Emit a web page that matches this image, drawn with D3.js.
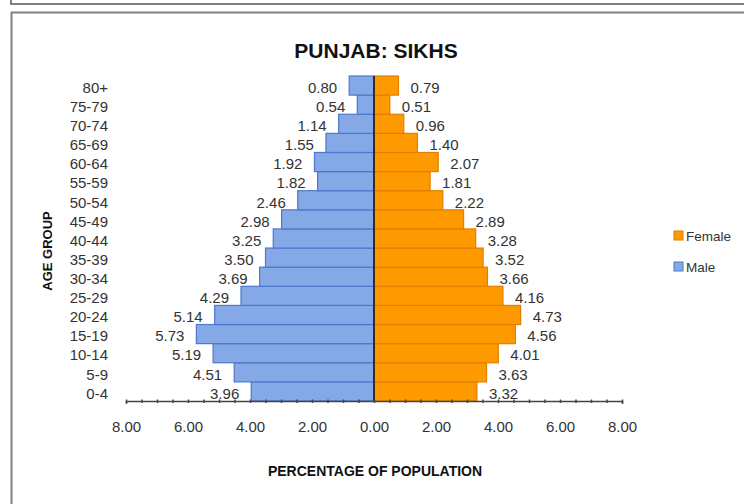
<!DOCTYPE html>
<html><head><meta charset="utf-8">
<script src="https://cdn.jsdelivr.net/npm/d3@7"></script>
<style>
html,body{margin:0;padding:0;background:#fff;}
svg{display:block;font-family:"Liberation Sans",Arial,sans-serif;}
</style></head>
<body><svg id="c" width="744" height="504"></svg>
<script>
const ageGroups = ["0-4","5-9","10-14","15-19","20-24","25-29","30-34","35-39","40-44","45-49","50-54","55-59","60-64","65-69","70-74","75-79","80+"];
const maleValues = [3.96,4.51,5.19,5.73,5.14,4.29,3.69,3.50,3.25,2.98,2.46,1.82,1.92,1.55,1.14,0.54,0.80];
const femaleValues = [3.32,3.63,4.01,4.56,4.73,4.16,3.66,3.52,3.28,2.89,2.22,1.81,2.07,1.40,0.96,0.51,0.79];
const xTickValues = [-8,-6,-4,-2,0,2,4,6,8];
const seriesNames = ["Female","Male"];
const titleText = "PUNJAB: SIKHS";
const xTitle = "PERCENTAGE OF POPULATION";
const yTitle = "AGE GROUP";

const svg = d3.select("#c");
const blueFill = "#84a9e6", blueStroke = "#4d78cc";
const orangeFill = "#ff9900", orangeStroke = "#e07f00";
const border = "#808080";

// outer frames
svg.append("path").attr("d","M11,0 V4 H744").attr("fill","none").attr("stroke",border).attr("stroke-width",2);
svg.append("path").attr("d","M11.5,504 V12.5 H744").attr("fill","none").attr("stroke",border).attr("stroke-width",2);

const x = d3.scaleLinear().domain([-8,8]).range([126,622]);
const y = d3.scaleBand().domain(ageGroups.slice().reverse()).range([76,401]).padding(0);

const data = ageGroups.map((g,i)=>({g, m:maleValues[i], f:femaleValues[i]}));

// male bars
svg.append("g").selectAll("rect").data(data).join("rect")
  .attr("x", d=>x(-d.m)).attr("y", d=>y(d.g))
  .attr("width", d=>x(0)-x(-d.m)).attr("height", y.bandwidth())
  .attr("fill", blueFill).attr("stroke", blueStroke).attr("stroke-width",1.2);
// female bars
svg.append("g").selectAll("rect").data(data).join("rect")
  .attr("x", x(0)).attr("y", d=>y(d.g))
  .attr("width", d=>x(d.f)-x(0)).attr("height", y.bandwidth())
  .attr("fill", orangeFill).attr("stroke", orangeStroke).attr("stroke-width",1.2);

// center axis line
svg.append("line").attr("x1",x(0)).attr("x2",x(0)).attr("y1",76).attr("y2",401)
  .attr("stroke","#3b2a1c").attr("stroke-width",2);

// x axis
const xAxis = d3.axisBottom(x).tickValues(d3.range(-8,8.01,0.5)).tickSize(3).tickFormat("");
const gx = svg.append("g").attr("transform","translate(0,401)").call(xAxis);
gx.select(".domain").attr("stroke","#444").attr("stroke-width",1.5);
gx.selectAll(".tick line").attr("stroke","#444").attr("stroke-width",1.5).attr("y1",-1.5).attr("y2",2);
const gxl = svg.append("g").attr("transform","translate(0,401)")
  .call(d3.axisBottom(x).tickValues(xTickValues).tickSize(0).tickPadding(0).tickFormat(d=>Math.abs(d).toFixed(2)));
gxl.select(".domain").remove();
gxl.selectAll("text").attr("y",31).attr("dy",null).attr("font-size",15).attr("fill","#333").attr("font-family",null);

// y labels
const gy = svg.append("g").attr("transform","translate(108,0)")
  .call(d3.axisLeft(y).tickSize(0).tickPadding(0));
gy.select(".domain").remove();
gy.selectAll("text").attr("dy","0.35em").attr("y",2).attr("font-size",15).attr("fill","#333").attr("font-family",null);

// value labels
svg.append("g").selectAll("text").data(data).join("text")
  .attr("x", d=>x(-d.m)-12).attr("y", d=>y(d.g)+y.bandwidth()/2+2).attr("dy","0.35em")
  .attr("text-anchor","end").attr("font-size",15).attr("fill","#333")
  .text(d=>d.m.toFixed(2));
svg.append("g").selectAll("text").data(data).join("text")
  .attr("x", d=>x(d.f)+12).attr("y", d=>y(d.g)+y.bandwidth()/2+2).attr("dy","0.35em")
  .attr("text-anchor","start").attr("font-size",15).attr("fill","#333")
  .text(d=>d.f.toFixed(2));

// title
svg.append("text").attr("x",376).attr("y",58).attr("text-anchor","middle")
  .attr("font-size",21).attr("font-weight","bold").attr("fill","#111").text(titleText);
svg.append("text").attr("x",375).attr("y",476).attr("text-anchor","middle")
  .attr("font-size",14).attr("font-weight","bold").attr("fill","#111").text(xTitle);
svg.append("text").attr("transform","translate(52,251) rotate(-90)").attr("text-anchor","middle")
  .attr("font-size",13).attr("font-weight","bold").attr("fill","#111").text(yTitle);

// legend
const leg = [{n:seriesNames[0], f:orangeFill, s:orangeStroke, y:236},{n:seriesNames[1], f:blueFill, s:blueStroke, y:267}];
const lg = svg.append("g").selectAll("g").data(leg).join("g");
lg.append("rect").attr("x",674).attr("y",d=>d.y-5).attr("width",9).attr("height",9)
  .attr("fill",d=>d.f).attr("stroke",d=>d.s).attr("stroke-width",1);
lg.append("text").attr("x",686).attr("y",d=>d.y).attr("dy","0.35em").attr("font-size",13.5).attr("fill","#333").text(d=>d.n);
</script></body></html>
